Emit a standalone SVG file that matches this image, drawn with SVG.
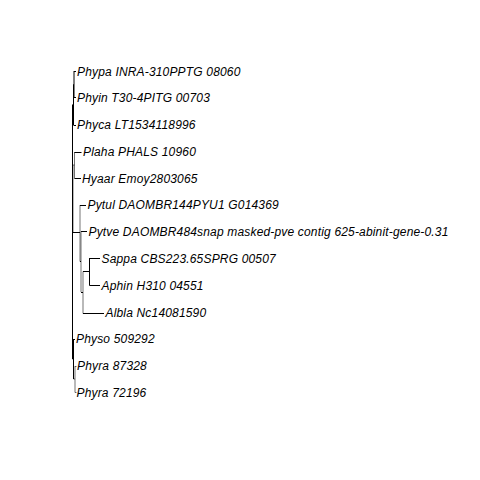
<svg xmlns="http://www.w3.org/2000/svg" width="480" height="480" viewBox="0 0 480 480">
<style>
.e{stroke:#000;stroke-width:1;fill:none}
.g{stroke:#000;stroke-width:1;fill:none;opacity:0.55}
text{font-family:"Liberation Sans",Arial,sans-serif;font-size:12px;font-style:italic;letter-spacing:0.17px;fill:#000}
</style>
<rect width="480" height="480" fill="#fff"/>
<g id="connectors">
<!-- root -->
<path class="e" d="M72.5 104.75V359"/>
<!-- N2 ((Phypa,Phyin),Phyca) -->
<path class="e" d="M73.5 84.5V125 M72.5 104.75H73.5"/>
<!-- N1 (Phypa,Phyin) -->
<path class="e" d="M74 71V98 M73.5 84.5H74"/>
<path class="e" d="M74 71.5H76 M74 97.5H76 M73.5 125.5H76"/>
<!-- N4 ((Plaha,Hyaar),A) -->
<path class="g" d="M73 165V233 M72.5 199H73"/>
<!-- N3 (Plaha,Hyaar) -->
<path class="g" d="M74.5 152V178.5 M73 165H74.5"/>
<path class="e" d="M74.5 152.5H81.5 M74.5 178.5H81"/>
<!-- A (Pytul, B) -->
<path class="g" d="M80 205V261.5"/>
<path class="e" d="M73 232.5H80 M80 205.5H86"/>
<!-- B (Pytve, C) -->
<path class="g" d="M81 231.5V292"/>
<path class="e" d="M80 261.5H81 M81 231.5H87"/>
<!-- C (D, Albla) -->
<path class="g" d="M83 271.5V313.5"/>
<path class="e" d="M81 292.5H83 M83 313.5H104"/>
<!-- D (Sappa, Aphin) -->
<path class="e" d="M89.5 258V285.5 M83 271.5H89.5 M89.5 258.5H100 M89.5 285.5H100"/>
<!-- N5 (Physo,(Phyra,Phyra)) -->
<path class="e" d="M73.5 339V379 M72.5 359H73.5 M73.5 339.5H75"/>
<!-- N6 (Phyra,Phyra) -->
<path class="g" d="M75 366V392.5 M73.5 379H75 M75 366.5H76.5 M75 392.5H76.5"/>
</g>
<g id="Phypa"><text x="77" y="75.5">Phypa INRA-310PPTG 08060</text></g>
<g id="Phyin"><text x="77" y="102.2">Phyin T30-4PITG 00703</text></g>
<g id="Phyca"><text x="77" y="129">Phyca LT1534118996</text></g>
<g id="Plaha"><text x="83" y="155.8">Plaha PHALS 10960</text></g>
<g id="Hyaar"><text x="82" y="182.5">Hyaar Emoy2803065</text></g>
<g id="Pytul"><text x="87.5" y="209.2">Pytul DAOMBR144PYU1 G014369</text></g>
<g id="Pytve"><text x="88.5" y="236">Pytve DAOMBR484snap masked-pve contig 625-abinit-gene-0.31</text></g>
<g id="Sappa"><text x="101.5" y="262.8">Sappa CBS223.65SPRG 00507</text></g>
<g id="Aphin"><text x="101.5" y="289.5">Aphin H310 04551</text></g>
<g id="Albla"><text x="105.5" y="317.2">Albla Nc14081590</text></g>
<g id="Physo"><text x="76" y="343">Physo 509292</text></g>
<g id="Phyra1"><text x="77" y="370">Phyra 87328</text></g>
<g id="Phyra2"><text x="76.5" y="396.5">Phyra 72196</text></g>
</svg>
